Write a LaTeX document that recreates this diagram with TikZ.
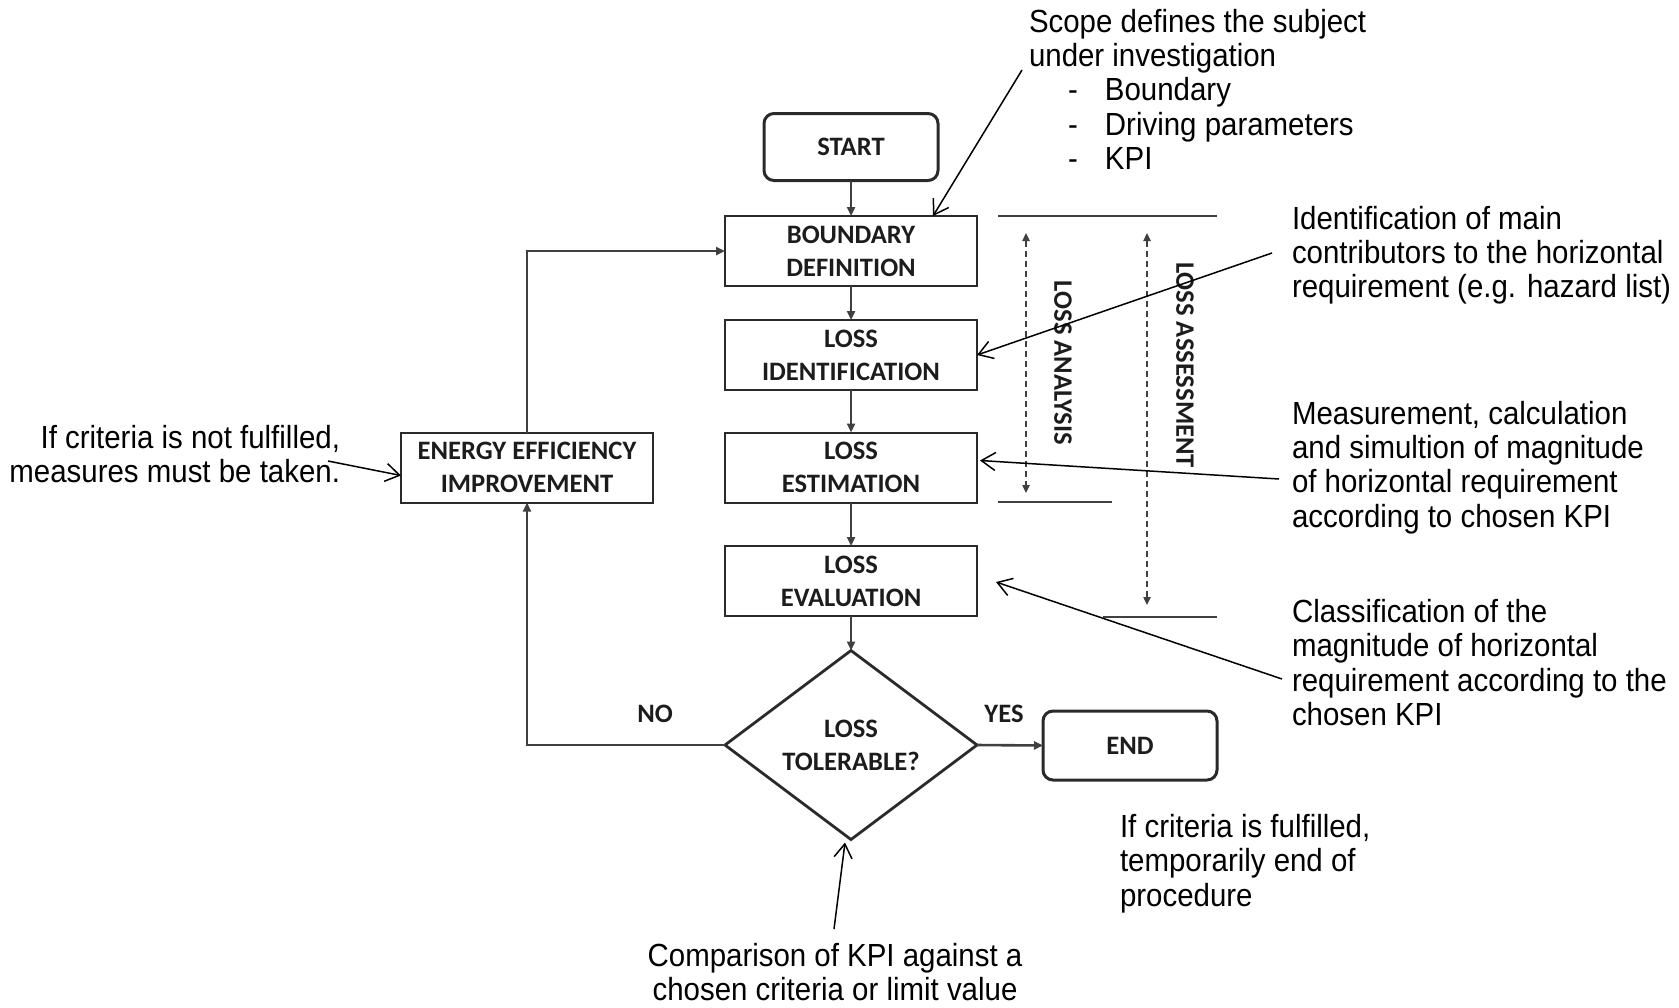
\documentclass[tikz,border=0pt]{standalone}
\usepackage{fontspec}
\setmainfont{Liberation Sans}
\newfontfamily\boxfamily{Carlito}
\newfontfamily\notefamily[FakeStretch=0.92]{Liberation Sans}
\usetikzlibrary{arrows.meta,shapes.geometric,calc}

\definecolor{boxline}{HTML}{2A2A2A}
\definecolor{flowgray}{HTML}{404040}
\definecolor{boxtext}{HTML}{1C1C1C}

\newcommand{\boxtextfont}{\boxfamily\bfseries\fontsize{13.3pt}{16.5pt}\selectfont}
\newcommand{\notetextfont}{\notefamily\fontsize{16pt}{17.2pt}\selectfont}

\tikzset{
  every node/.style={inner sep=0pt, outer sep=0pt},
  procbox/.style={draw=boxline, line width=1pt, minimum width=126pt,
    minimum height=35pt, align=center, font=\boxtextfont, text=boxtext},
  termbox/.style={procbox, rounded corners=5pt, line width=1.5pt,
    minimum width=87pt, minimum height=33.5pt},
  decision/.style={diamond, draw=boxline, line width=1.4pt, minimum width=126pt,
    minimum height=94.5pt, align=center, font=\boxtextfont, text=boxtext},
  flowlabel/.style={font=\boxtextfont, text=boxtext},
  sidelabel/.style={font=\boxtextfont, text=boxtext, rotate=-90},
  note/.style={font=\notetextfont, text=black},
  flow/.style={draw=flowgray, line width=1.3pt,
    -{Triangle[length=4.5pt,width=4pt]}},
  rangearrow/.style={draw=flowgray, line width=0.9pt, dash pattern=on 3pt off 2pt,
    {Triangle[length=4pt,width=3.6pt]}-{Triangle[length=4pt,width=3.6pt]}},
  rangeline/.style={draw=flowgray, line width=1pt},
  pointer/.style={draw=black, line width=0.75pt,
    -{Straight Barb[length=7pt,width=9pt]}}
}

\begin{document}
\begin{tikzpicture}[x=0.5pt, y=-0.5pt]
\useasboundingbox (0,0) rectangle (1679,1007);

% main procedure column
\node[termbox] (start) at (851,147) {START};
\node[procbox] (bd) at (851,251) {BOUNDARY\\DEFINITION};
\node[procbox] (li) at (851,355) {LOSS\\IDENTIFICATION};
\node[procbox] (le) at (851,467.5) {LOSS\\ESTIMATION};
\node[procbox] (lv) at (851,581) {LOSS\\EVALUATION};
\node[decision] (dec) at (851,745) {LOSS\\TOLERABLE?};
\node[termbox, minimum height=34.5pt] (end) at (1130,745.5) {END};
\node[procbox] (ee) at (527,467.5) {ENERGY EFFICIENCY\\IMPROVEMENT};

% flow connectors
\draw[flow] (start) -- (bd);
\draw[flow] (bd) -- (li);
\draw[flow] (li) -- (le);
\draw[flow] (le) -- (lv);
\draw[flow] (lv) -- (dec);
\draw[flow] (dec.east) -- (end.west);
\draw[flow] (dec.west) -| (ee.south);
\draw[flow] (ee.north) |- (bd.west);
\node[flowlabel] (yes) at (1004,714) {YES};
\node[flowlabel] (no) at (655,714) {NO};

% analysis / assessment ranges
\coordinate (anaTop) at (1026,233);
\coordinate (anaBot) at (1026,493);
\coordinate (assTop) at (1147,233);
\coordinate (assBot) at (1147,605);
\draw[rangeline] (998,216) -- (1217,216);
\draw[rangeline] (998,502) -- (1112,502);
\draw[rangeline] (1103,617) -- (1217,617);
\draw[rangearrow] (anaTop) -- (anaBot);
\draw[rangearrow] (assTop) -- (assBot);
\node[sidelabel] (analysis) at (1063,363) {LOSS ANALYSIS};
\node[sidelabel] (assessment) at (1185,365) {LOSS ASSESSMENT};

% explanatory notes
\node[note, anchor=north west, align=left] (scope) at (1029,9)
  {Scope defines the subject\\under investigation\\
   \hspace*{19.5pt}\makebox[18.5pt][l]{-}Boundary\\
   \hspace*{19.5pt}\makebox[18.5pt][l]{-}Driving parameters\\
   \hspace*{19.5pt}\makebox[18.5pt][l]{-}KPI};
\node[note, anchor=north west, align=left] (ident) at (1292,206)
  {Identification of main\\contributors to the horizontal\\requirement (e.g. hazard list)};
\node[note, anchor=north west, align=left] (meas) at (1292,401)
  {Measurement, calculation\\and simultion of magnitude\\of horizontal requirement\\according to chosen KPI};
\node[note, anchor=north west, align=left] (classif) at (1292,599)
  {Classification of the\\magnitude of horizontal\\requirement according to the\\chosen KPI};
\node[note, anchor=north west, align=left] (fulfil) at (1120,814)
  {If criteria is fulfilled,\\temporarily end of\\procedure};
\node[note, anchor=north, align=center] (compare) at (835,943)
  {Comparison of KPI against a\\chosen criteria or limit value};
\node[note, anchor=north east, align=right] (notfulfil) at (340,425)
  {If criteria is not fulfilled,\\measures must be taken.};

% pointers from the notes
\coordinate (scopeTail) at (1022,70);
\coordinate (identTail) at (1272,253);
\coordinate (measTail) at (1279,479);
\coordinate (classifTail) at (1282,679);
\coordinate (notfulfilTail) at (328,461);
\coordinate (compareTail) at (834,929);
\draw[pointer] (scopeTail) -- ($(bd.north east)+(-44,0)$);
\draw[pointer] (identTail) -- (li.east);
\draw[pointer] (measTail) -- ($(le.east)+(3,-7)$);
\draw[pointer] (classifTail) -- ($(lv.east)+(19,1)$);
\draw[pointer] (notfulfilTail) -- ($(ee.west)+(0,8)$);
\draw[pointer] (compareTail) -- ($(dec.south)+(-6,3)$);
\end{tikzpicture}
\end{document}
